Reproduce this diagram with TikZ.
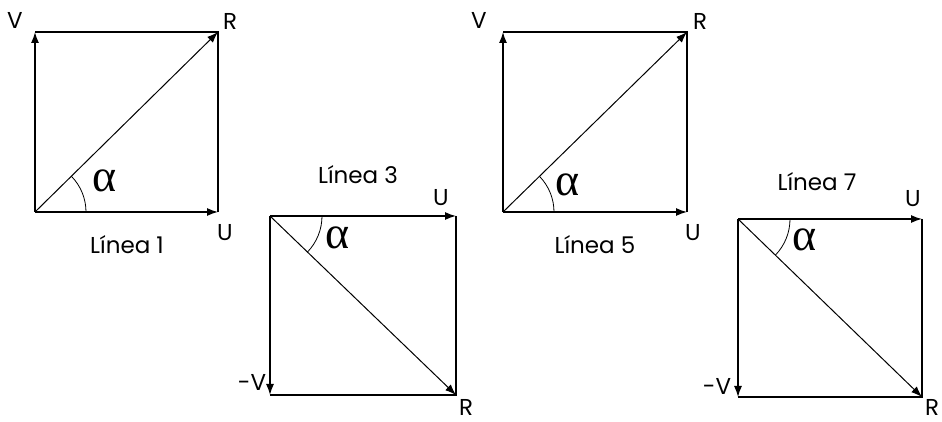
\documentclass[tikz,border=0pt]{standalone}
\usepackage{fontspec}
\setmainfont{Poppins}
\newfontfamily\alphafont{Liberation Serif}
\usetikzlibrary{arrows.meta,positioning}

\begin{document}
\begin{tikzpicture}[x=1pt,y=1pt,>={Latex[length=11pt,width=8pt]},
  vec/.style={->,line width=1.3pt},
  side/.style={line width=1.3pt},
  diag/.style={->,line width=1pt},
  lbl/.style={font=\fontsize{23}{26}\selectfont,inner sep=0pt},
  ang/.style={font=\alphafont\fontsize{46}{46}\selectfont,inner sep=0pt}]
\useasboundingbox (0,0) rectangle (942,422);
% Linea 1
\coordinate (o1) at (35,210); \coordinate (v1) at (35,390);
\coordinate (r1) at (218,390); \coordinate (u1) at (218,210);
\draw[side] (v1) -- (r1) -- (u1);
\draw[vec] (o1) -- (v1); \draw[vec] (o1) -- (u1); \draw[diag] (o1) -- (r1);
\draw[line width=.8pt] ([xshift=51pt]o1) arc[start angle=0,end angle=44.5,radius=51pt];
\node[lbl] (v1l) at (15,402) {V}; \node[lbl] (r1l) at (230,401) {R};
\node[lbl] (u1l) at (225,189) {U}; \node[lbl] (n1) at (127,177) {Línea 1};
\node[ang] (a1) at (105,241) {α};
% Linea 3
\coordinate (o2) at (270,206); \coordinate (u2) at (456,206);
\coordinate (v2) at (270,27); \coordinate (r2) at (456,27);
\draw[side] (u2) -- (r2) -- (v2);
\draw[vec] (o2) -- (v2); \draw[vec] (o2) -- (u2); \draw[diag] (o2) -- (r2);
\draw[line width=.8pt] ([xshift=52pt]o2) arc[start angle=0,end angle=-43.9,radius=52pt];
\node[lbl] (n2) at (358,247) {Línea 3}; \node[lbl] (u2l) at (441,224) {U};
\node[lbl] (v2l) at (252,40) {-V}; \node[lbl] (r2l) at (466,15) {R};
\node[ang] (a2) at (338,184) {α};
% Linea 5
\coordinate (o3) at (503,210); \coordinate (v3) at (503,390);
\coordinate (r3) at (687,390); \coordinate (u3) at (687,210);
\draw[side] (v3) -- (r3) -- (u3);
\draw[vec] (o3) -- (v3); \draw[vec] (o3) -- (u3); \draw[diag] (o3) -- (r3);
\draw[line width=.8pt] ([xshift=51pt]o3) arc[start angle=0,end angle=44.4,radius=51pt];
\node[lbl] (v3l) at (479,402) {V}; \node[lbl] (r3l) at (700,401) {R};
\node[lbl] (u3l) at (693,189) {U}; \node[lbl] (n3) at (595,177) {Línea 5};
\node[ang] (a3) at (568,237) {α};
% Linea 7
\coordinate (o4) at (738,203); \coordinate (u4) at (922,203);
\coordinate (v4) at (738,25); \coordinate (r4) at (922,25);
\draw[side] (u4) -- (r4) -- (v4);
\draw[vec] (o4) -- (v4); \draw[vec] (o4) -- (u4); \draw[diag] (o4) -- (r4);
\draw[line width=.8pt] ([xshift=52pt]o4) arc[start angle=0,end angle=-44,radius=52pt];
\node[lbl] (n4) at (817,240) {Línea 7}; \node[lbl] (u4l) at (913,223) {U};
\node[lbl] (v4l) at (717,36) {-V}; \node[lbl] (r4l) at (932,15) {R};
\node[ang] (a4) at (805,182) {α};
\end{tikzpicture}
\end{document}
